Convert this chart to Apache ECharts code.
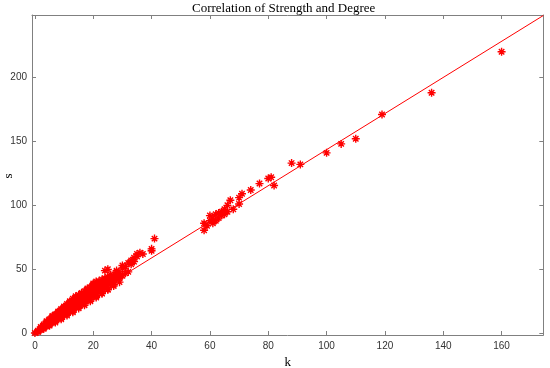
<!DOCTYPE html>
<html>
<head>
<meta charset="utf-8">
<script src="https://cdn.jsdelivr.net/npm/echarts@6/dist/echarts.min.js"></script>
<style>html,body{margin:0;padding:0;background:#fff}#c{width:550px;height:368px}</style>
</head>
<body>
<div id="c"></div>
<script>
// Dense band of low-degree nodes (k = degree, s = strength)
const bandK = [1,1,1, 2,2,2,2, 3,3,3,3,3, 4,4,4,4,4,4, 5,5,5,5,5,5, 6,6,6,6,6,6,
  7,7,7,7,7,7, 8,8,8,8,8,8, 9,9,9,9,9,9, 10,10,10,10,10,10, 11,11,11,11,11,11,
  12,12,12,12,12,12, 13,13,13,13,13,13, 14,14,14,14,14,14, 15,15,15,15,15,
  16,16,16,16,16, 17,17,17,17,17, 18,18,18,18,18, 19,19,19,19, 20,20,20,20,20,
  21,21,21,21,21, 22,22,22,22, 23,23,23,23, 24,24,24,24,24, 25,25,25,25,25,
  26,26,26, 27,27,27, 28,28,28,28, 29,29,29, 30,30,30, 31,31, 32,32, 33,33, 34,34,
  35,35, 36, 37, 40,40, 41, 0];
const bandS = [1,1.5,2, 2.5,3,3.5,4, 4,4.5,5,5.5,6, 5.5,6,6.5,7,7.5,8, 7,7.5,8,8.5,9,10, 8.5,9,10,10.5,11,12,
  10,11,11.5,12,13,14, 11.5,12.5,13,14,15,16, 13,14,15,16,17,18, 14.5,15.5,16.5,17.5,18.5,20, 16,17,18,19,20,21.5,
  17.5,18.5,19.5,21,22,23.5, 19,20,21.5,22.5,24,25, 20.5,22,23,24.5,26,27, 22,23.5,25,26,27.5,
  23,25,26.5,28,29.5, 25,26.5,28,29.5,31, 26,28,30,31.5,33, 28,30,31.5,33, 29,31,33,35,38,
  31,33,35,36.5,39, 32.5,34.5,36.5,38, 34,36,38,40, 35.5,38,40,42,49, 37,39.5,42,44,50,
  38.5,41,43, 40,42.5,45, 42,44,46,49, 43,45,47, 45,51,53, 47,52, 48,55, 54,57, 56,59,
  62,60, 63, 62, 66,64.5, 74, 0.3];
// Extra spread within the band (upper and lower edges)
const edgeK = [2,3,4,5,6,7,8,9,10,11,12,13,14,15,16,17,18,19,20,21,22,23,
  3,5,7,9,11,13,15,17,19,21,23,25,27, 6,8,10,12,14,16,18,20,22,
  4,6,8,10,12,14,16,18,20,22,24,26,28, 5,7,9,11,13,15,17,19,21,23,25,27,29];
const edgeS = [5,7,9,11,13,15,17,19,21,23,25,27,29,30,31.5,33,35,36,39,40.5,41,42,
  3.5,6.5,9.5,12,15,17.5,20.5,23,26,29,31.5,34.5,38, 13.5,16.5,19,22,24,27,30,32.5,35,
  9.5,13,16.5,20.5,24.5,28,31,34.5,38,40,43,46,48, 6,8.5,11,14,16.5,19.5,22,25,28,31,34,37,40];
// Middle cluster
const midK = [58,58,59,60,60,61,61,62,62,63,63,64,64,65,65,66,66,67,68,70,70,71,74,77,80,81,82];
const midS = [80.5,86,84,88,92,86,90,88,93,90,94,92,95,93,97,95,100,104,97,101,106,109,112,117,121,122,115.5];
// High-degree hubs
const hubK = [88,91,100,105,110,119,136,160];
const hubS = [133,132,141,148,152,171,188,220];
// Fitted line end points
const fitK = [0, 174.3];
const fitS = [2.5, 248.3];
// Tick labels
const xTicks = [0,20,40,60,80,100,120,140,160];
const yTicks = [0,50,100,150,200];

const pts = [];
[[bandK,bandS],[edgeK,edgeS],[midK,midS],[hubK,hubS]].forEach(([ks,ss]) => ks.forEach((k,i) => pts.push([k, ss[i]])));
const fit = fitK.map((k,i) => [k, fitS[i]]);

const axisCol = '#808080';
const serif = '"Liberation Serif", "DejaVu Serif", serif';
const xr = {min: -1, max: 174.3}, yr = {min: -1.3, max: 248.7};
const chart = echarts.init(document.getElementById('c'), null, {renderer: 'canvas'});
const tickBase = {show: true, inside: true, length: 4, lineStyle: {color: axisCol, width: 1}};
chart.setOption({
  animation: false,
  grid: {left: 32, top: 15, right: 6.7, bottom: 33, containLabel: false, outerBoundsMode: 'none'},
  graphic: [{
    type: 'text', left: 192, top: 2,
    style: {text: 'Correlation of Strength and Degree', font: '13px ' + serif, fill: '#000'}
  }, {
    type: 'text', x: 9, y: 176, rotation: Math.PI / 2,
    style: {text: 's', font: '13px ' + serif, fill: '#000', align: 'center', verticalAlign: 'middle'}
  }],
  xAxis: [{
    type: 'value', position: 'bottom', ...xr,
    name: 'k', nameLocation: 'middle', nameGap: 19,
    nameTextStyle: {fontFamily: serif, fontSize: 13, color: '#000'},
    axisLine: {show: true, onZero: false, lineStyle: {color: axisCol}},
    axisTick: {...tickBase, customValues: xTicks},
    axisLabel: {customValues: xTicks, fontFamily: '"Liberation Sans", Arial, sans-serif', fontSize: 10, color: '#333', margin: 6},
    splitLine: {show: false}
  }, {
    type: 'value', position: 'top', ...xr,
    axisLine: {show: true, onZero: false, lineStyle: {color: axisCol}},
    axisTick: {...tickBase, customValues: xTicks},
    axisLabel: {show: false}, splitLine: {show: false}
  }],
  yAxis: [{
    type: 'value', position: 'left', ...yr,
    axisLine: {show: true, onZero: false, lineStyle: {color: axisCol}},
    axisTick: {...tickBase, customValues: yTicks},
    axisLabel: {customValues: yTicks, fontFamily: '"Liberation Sans", Arial, sans-serif', fontSize: 10, color: '#333', margin: 5},
    splitLine: {show: false}
  }, {
    type: 'value', position: 'right', ...yr,
    axisLine: {show: true, onZero: false, lineStyle: {color: axisCol}},
    axisTick: {...tickBase, customValues: yTicks},
    axisLabel: {show: false}, splitLine: {show: false}
  }],
  series: [{
    type: 'scatter', xAxisIndex: 0, yAxisIndex: 0, data: pts,
    symbol: 'path://M0,5L10,5M5,0L5,10M1.6,1.6L8.4,8.4M1.6,8.4L8.4,1.6',
    symbolSize: 8,
    itemStyle: {color: 'rgba(0,0,0,0)', borderColor: '#ff0000', borderWidth: 1.4, opacity: 1},
    z: 3
  }, {
    type: 'line', xAxisIndex: 0, yAxisIndex: 0, data: fit,
    showSymbol: false, symbol: 'none',
    lineStyle: {color: '#ff0000', width: 1}, z: 2
  }]
});
</script>
</body>
</html>
